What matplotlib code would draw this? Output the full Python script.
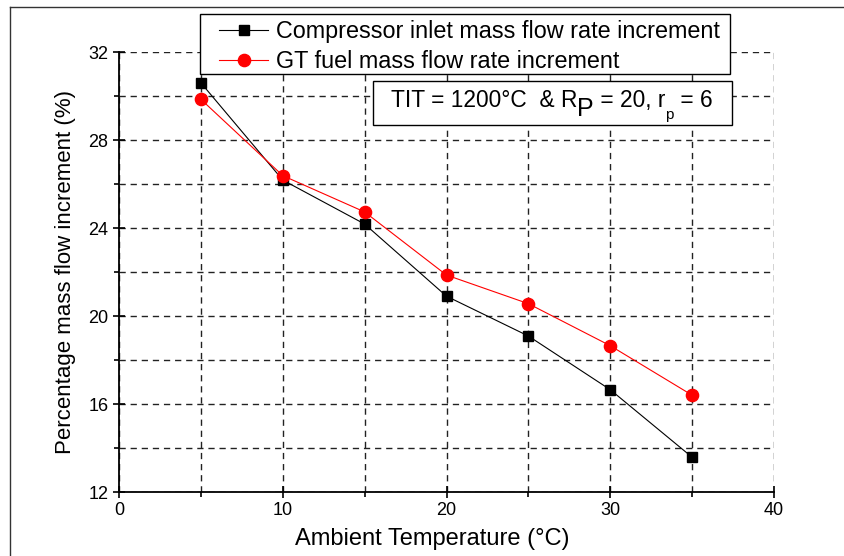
import matplotlib
matplotlib.use("Agg")
import matplotlib.pyplot as plt
from matplotlib.ticker import MultipleLocator
from matplotlib.lines import Line2D

# Ambient temperature (°C) and percentage increments
ambient_temp = [5, 10, 15, 20, 25, 30, 35]
compressor_inlet = [30.6, 26.18, 24.18, 20.9, 19.09, 16.65, 13.58]
gt_fuel = [29.85, 26.38, 24.73, 21.86, 20.56, 18.65, 16.4]

series_labels = ["Compressor inlet mass flow rate increment",
                 "GT fuel mass flow rate increment"]
x_label = "Ambient Temperature (°C)"
y_label = "Percentage mass flow increment (%)"

plt.rcParams["font.family"] = ["Liberation Sans", "DejaVu Sans"]

W, H = 844, 556
fig = plt.figure(figsize=(W / 100, H / 100), dpi=100)


def fx(px):
    return px / W


def fy(py):
    return 1 - py / H


ax = fig.add_axes([fx(119), fy(492), fx(774) - fx(119), fy(52) - fy(492)])

ax.plot(ambient_temp, compressor_inlet, color="black", lw=0.8,
        marker="s", ms=7.5, mfc="black", mec="black", zorder=4)
ax.plot(ambient_temp, gt_fuel, color="red", lw=0.8,
        marker="o", ms=8.8, mfc="red", mec="red", zorder=4)

ax.set_xlim(0, 40)
ax.set_ylim(12, 32)
ax.xaxis.set_major_locator(MultipleLocator(10))
ax.xaxis.set_minor_locator(MultipleLocator(5))
ax.yaxis.set_major_locator(MultipleLocator(4))
ax.yaxis.set_minor_locator(MultipleLocator(2))

for s in ("top", "right"):
    ax.spines[s].set_visible(False)
for s in ("left", "bottom"):
    ax.spines[s].set_linewidth(1.3)

ax.tick_params(which="major", direction="inout", length=9, width=1.2,
               labelsize=13, pad=3)
ax.tick_params(which="minor", direction="out", length=3.5, width=1.2)

ax.grid(which="both", axis="both", color="#222222", ls=(0, (4.5, 3.5)),
        lw=1.0)
ax.set_axisbelow(True)

ax.set_xlabel(x_label, fontsize=17)
ax.xaxis.set_label_coords(0.479, -0.082)
ax.set_ylabel(y_label, fontsize=16, labelpad=9)

# Legend: frame drawn as a separate rectangle
legend_frame = plt.Rectangle((fx(200), fy(74)), fx(730) - fx(200),
                             fy(14) - fy(74), transform=fig.transFigure,
                             facecolor="white", edgecolor="black", lw=1.0,
                             zorder=5)
fig.add_artist(legend_frame)
handles = [
    Line2D([], [], color="black", lw=0.8, marker="s", ms=7.5),
    Line2D([], [], color="red", lw=0.8, marker="o", ms=8.8),
]
leg = fig.legend(handles, series_labels, loc="upper left",
                 bbox_to_anchor=(fx(219), fy(20)), fontsize=16.8,
                 frameon=False, borderpad=0.0, handlelength=2.1,
                 handletextpad=0.35, labelspacing=0.3, borderaxespad=0)
leg.set_zorder(6)

# Operating condition annotation box
box = plt.Rectangle((fx(373), fy(125)), fx(732) - fx(373), fy(81) - fy(125),
                    transform=fig.transFigure, facecolor="white",
                    edgecolor="black", lw=1.0, zorder=5)
fig.add_artist(box)

fig.canvas.draw()
renderer = fig.canvas.get_renderer()

pieces = [
    ("TIT = 1200°C  & R", 16.4, 0),
    ("P", 18, -9),
    (" = 20, r", 16.4, 0),
    ("p", 11, -12),
    (" = 6", 16.4, 0),
]
x_cur = 391
for txt, size, dy in pieces:
    t = fig.text(fx(x_cur), fy(107 - dy), txt, fontsize=size,
                 ha="left", va="baseline", zorder=6)
    bb = t.get_window_extent(renderer)
    x_cur += bb.width

# Outer frame lines on the top and left edges
fig.add_artist(Line2D([fx(10), 1], [fy(7), fy(7)], color="#333333", lw=1.0,
                      transform=fig.transFigure))
fig.add_artist(Line2D([fx(10), fx(10)], [fy(7), 0], color="#333333", lw=1.0,
                      transform=fig.transFigure))

fig.savefig("out.png", dpi=100)
